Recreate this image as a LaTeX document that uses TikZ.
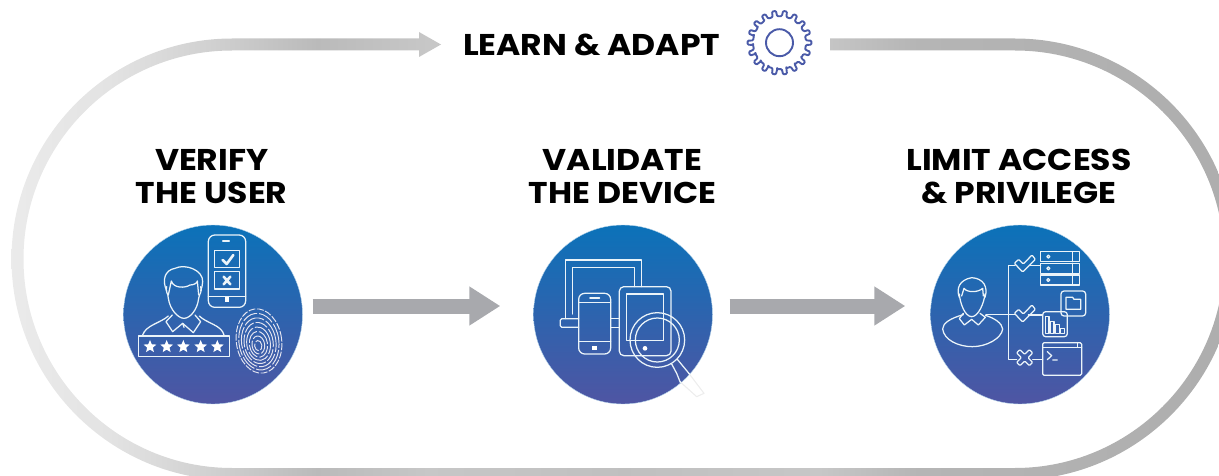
\documentclass[tikz,border=0pt]{standalone}
\usepackage{fontspec}
\setmainfont{Poppins}[FakeStretch=1.1]
\usetikzlibrary{arrows.meta,shadings}
\definecolor{ctop}{HTML}{0B72B9}
\definecolor{cbot}{HTML}{4F55A3}
\definecolor{arrowgray}{HTML}{A8A9AD}
\definecolor{gearblue}{HTML}{4A5AA8}
\pgfdeclarehorizontalshading{loopgrad}{100bp}{
 color(0bp)=(black!8);
 color(25bp)=(black!8);
 color(29bp)=(black!11);
 color(33bp)=(black!18);
 color(37.5bp)=(black!27);
 color(42bp)=(black!22);
 color(50bp)=(black!25);
 color(58bp)=(black!22);
 color(62bp)=(black!29);
 color(75bp)=(black!32);
 color(100bp)=(black!32)}
\tikzset{
 disc/.style={circle,minimum size=179pt,inner sep=0pt,top color=ctop,bottom color=cbot,draw=white!70!ctop,line width=.4pt},
 headline/.style={font=\fontsize{30}{33}\selectfont\bfseries,align=center,text=black,inner sep=0pt},
 blockarrow/.style={draw=arrowgray,line width=15pt,-{Triangle[length=31pt,width=37pt]}},
 ic/.style={draw=white!92!ctop,line width=1.25pt,line join=round,line cap=round},
 zoomA/.style={shift={(#1,220)},x=.33333pt,y=-.33333pt}
}
\newcommand{\pwstar}[2]{\fill[white,shift={(#1,#2)}] (-90:20) -- (-54:9) -- (-18:20) -- (18:9) -- (54:20) -- (90:9) -- (126:20) -- (162:9) -- (198:20) -- (234:9) -- cycle;}
\begin{document}
\begin{tikzpicture}[x=1pt,y=-1pt]
\useasboundingbox (0,0) rectangle (1219,476);
\begin{scope}
\clip (0,0) rectangle (1219,476);
% track
\shade[shading=loopgrad]
 (830,38.5) -- (1015,38.5)
 .. controls (1136,38.5) and (1236,137) .. (1236,259)
 .. controls (1236,381) and (1136,480) .. (1015,480)
 -- (232,480)
 .. controls (111,480) and (11.5,381) .. (11.5,259)
 .. controls (11.5,137) and (111,38.5) .. (232,38.5)
 -- (419,38.5) -- (419,32) -- (441,44.5) -- (419,57) -- (419,50.5) -- (232,50.5)
 .. controls (117,50.5) and (23.5,144) .. (23.5,259)
 .. controls (23.5,374) and (117,468) .. (232,468)
 -- (1015,468)
 .. controls (1130,468) and (1224,374) .. (1224,259)
 .. controls (1224,144) and (1130,50.5) .. (1015,50.5)
 -- (830,50.5) -- cycle;
\end{scope}

% discs
\node[disc] (c1) at (213,314.5) {};
\node[disc] (c2) at (623,314.5) {};
\node[disc] (c3) at (1020,314.5) {};

% block arrows
\draw[blockarrow] ([shift={(10,-8.5)}]c1.east) -- ([shift={(-33,-8.5)}]c2.west);
\draw[blockarrow] ([shift={(17,-8.5)}]c2.east) -- ([shift={(-25,-8.5)}]c3.west);

% texts
\node[headline] (title) at (591.7,44.5) {LEARN \& ADAPT};
\node[headline] (t1) at (211.7,176.5) {VERIFY\\THE USER};
\node[headline] (t2) at (622.5,176.5) {VALIDATE\\THE DEVICE};
\node[headline] (t3) at (1019,176.5) {LIMIT ACCESS\\\& PRIVILEGE};

% gear
\begin{scope}[shift={(779.5,42.7)}]
\draw[gearblue,line width=1.9pt] (0,0) circle (13.5);
\draw[gearblue,line width=1.9pt,line join=round,rounded corners=1pt]
 (-5:26.5) \foreach \i in {0,...,17}{
   -- ({\i*20-5}:26.5) -- ({\i*20-3.5}:32) -- ({\i*20+3.5}:32) -- ({\i*20+5}:26.5) -- ({\i*20+15}:26.5)
 } -- cycle;
\end{scope}

% icon 1: user
\begin{scope}[zoomA=110]
 \draw[ic,rounded corners=6.5pt] (295,45) rectangle (407,262);
 \draw[ic] (338,63) -- (358,63);
 \draw[ic] (295,230) -- (407,230);
 \draw[ic] (313,92) rectangle (389,143);
 \draw[ic] (313,155) rectangle (389,207);
 \fill[white] (344,232) rectangle (358,246);
 \draw[ic,line width=2.6pt] (338,120) -- (350,132) -- (370,105);
 \draw[ic,line width=2.6pt] (341,170) -- (361,193) (361,170) -- (341,193);
 % person
 \draw[ic] (170,212) .. controls (155,180) and (165,150) .. (195,145)
   .. controls (225,130) and (280,150) .. (278,185) .. controls (278,195) and (275,205) .. (272,212);
 \draw[ic] (170,200) .. controls (165,215) and (175,220) .. (175,235)
   .. controls (180,270) and (205,295) .. (222,295) .. controls (240,295) and (262,270) .. (266,235)
   .. controls (268,220) and (278,215) .. (272,200);
 \draw[ic] (175,225) -- (184,183) .. controls (190,205) and (225,205) .. (240,195) .. controls (250,195) and (262,190) .. (262,183) -- (266,225);
 \draw[ic] (187,285) -- (168,305) -- (188,335) -- (218,310) -- (250,338) -- (272,305) -- (255,285);
 \draw[ic] (218,310) -- (222,322);
 \draw[ic] (98,345) .. controls (108,315) and (150,310) .. (175,288);
 \draw[ic] (268,288) .. controls (290,310) and (335,315) .. (342,345);
 \draw[ic] (85,348) rectangle (358,410);
 \pwstar{120}{380}\pwstar{170}{380}\pwstar{220}{380}\pwstar{272}{380}\pwstar{322}{380}
 % fingerprint
 \foreach \k/\d in {1/{on 7pt off 1.5pt},.88/{on 16pt off 2pt},.76/{on 22pt off 2pt},.64/{on 13pt off 2pt},.52/{on 24pt off 2pt},.40/{on 15pt off 2pt},.28/{on 17pt off 2pt},.16/{on 9pt off 2pt}}{
   \draw[white!85!cbot,line width=.95pt,dash pattern/.expanded=\d,rotate around={8:(447,363)}]
     ({447-5*(1-\k)},{363+16*(1-\k)}) ellipse [x radius=68*\k*.3333pt,y radius=97*\k*.3333pt];
 }
\end{scope}

% icon 2: device
\begin{scope}[zoomA=520]
 \draw[ic] (137,296) -- (137,120) -- (365,120) -- (365,200);
 \draw[ic] (157,282) -- (157,142) -- (343,142) -- (343,200);
 \draw[ic,rounded corners=1.5pt] (176,296) -- (121,296) -- (121,322) -- (176,322);
 \draw[ic] (272,296) -- (298,296) (272,322) -- (298,322);
 \draw[ic,rounded corners=6pt] (176,220) rectangle (272,402);
 \draw[ic,line width=1.8pt] (210,234) -- (238,234);
 \draw[ic] (176,247) -- (272,247) (176,365) -- (272,365);
 \fill[white] (217,378) rectangle (230,390);
 \draw[ic,rounded corners=4.5pt] (298,200) rectangle (453,407);
 \draw[ic] (320,222) rectangle (431,362);
 \fill[white] (375,385) circle (7);
 \draw[ic] (412,360) circle (82) (412,360) circle (66);
 \draw[draw=black!7,line width=1.1pt,line join=round] (480,485) -- (530,530) -- (552,520) -- (505,458);
 \begin{scope}
  \clip (c2) circle (89.5pt);
  \draw[ic] (455,432) -- (470,460) -- (480,485) -- (530,530) -- (552,520) -- (505,458) -- (472,418);
 \end{scope}
\end{scope}

% icon 3: access
\begin{scope}[zoomA=920]
 \draw[ic] (118,232) .. controls (108,205) and (118,180) .. (155,173) .. controls (190,175) and (205,200) .. (195,232);
 \draw[ic] (118,222) .. controls (120,250) and (135,290) .. (155,290) .. controls (175,290) and (192,250) .. (195,222);
 \draw[ic] (125,228) -- (132,205) .. controls (140,218) and (175,218) .. (188,205) -- (190,228);
 \draw[ic] (130,280) -- (118,296) -- (133,315) -- (155,298) -- (175,315) -- (196,292) -- (180,280);
 \draw[ic] (130,284) .. controls (90,295) and (68,310) .. (68,327) .. controls (72,360) and (115,380) .. (157,380)
   .. controls (200,380) and (245,355) .. (248,327) .. controls (246,310) and (225,295) .. (196,286);
 \draw[ic] (198,284) -- (285,284);
 \draw[ic] (285,137) -- (265,137) -- (265,418) -- (290,418);
 \draw[ic,rounded corners=1pt] (283,130) -- (296,118) -- (310,132) -- (336,105) -- (346,118) -- (308,156) -- cycle;
 \draw[ic,rounded corners=1pt,yshift=-50pt] (283,130) -- (296,118) -- (310,132) -- (336,105) -- (346,118) -- (308,156) -- cycle;
 \draw[ic] (330,137) -- (362,137) (325,285) -- (368,285) (338,418) -- (368,418);
 \begin{scope}[shift={(314,413)},rotate=45]
  \draw[ic,rounded corners=1pt] (-7,-27) -- (7,-27) -- (7,-7) -- (27,-7) -- (27,7) -- (7,7) -- (7,27) -- (-7,27) -- (-7,7) -- (-27,7) -- (-27,-7) -- (-7,-7) -- cycle;
 \end{scope}
 \foreach \y in {95,130,165}{
  \draw[ic] (362,\y) rectangle (478,{\y+30});
  \draw[ic] (457,\y) -- (457,{\y+30});
  \draw[ic] (385,{\y+15}) circle (4.5);
 }
 \draw[ic,rounded corners=3pt] (423,213) rectangle (497,288);
 \draw[ic] (438,268) -- (438,232) -- (458,232) -- (462,238) -- (482,238) -- (482,268) -- cycle;
 \draw[ic,rounded corners=3pt] (368,275) rectangle (442,350);
 \draw[ic] (376,290) rectangle (387,340) (391,305) rectangle (402,340) (406,313) rectangle (418,340) (422,325) rectangle (434,340);
 \draw[ic,rounded corners=1.5pt] (368,368) rectangle (485,466);
 \draw[ic] (368,382) -- (485,382) (472,368) -- (472,382);
 \draw[ic] (382,395) -- (395,407) -- (382,419) (398,420) -- (412,420);
\end{scope}
\end{tikzpicture}
\end{document}
